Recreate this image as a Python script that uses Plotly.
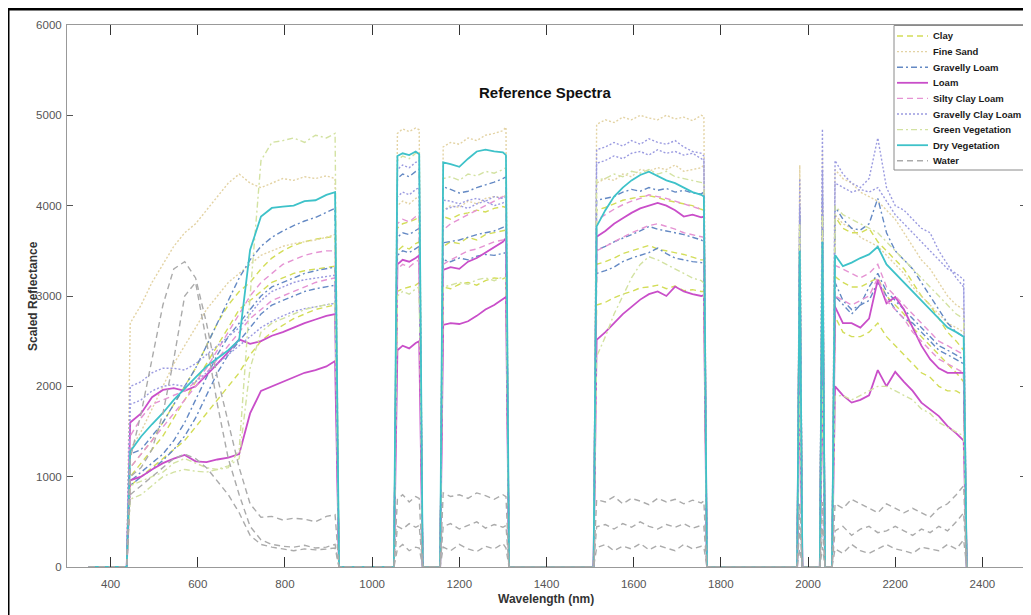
import plotly.graph_objects as go

# ---------------- wavelength grid (nm) ----------------
WL_B1 = [445, 470, 495, 520, 545, 570, 595, 620, 645, 670, 695, 720, 745, 770, 795, 820, 845, 870, 895, 915]
WL_B2 = [1058, 1070, 1085, 1100, 1108]
WL_B3 = [1163, 1180, 1200, 1220, 1240, 1260, 1280, 1300, 1307]
WL_B4 = [1515, 1535, 1555, 1575, 1595, 1615, 1635, 1655, 1675, 1695, 1715, 1735, 1755, 1761]
WL_S1 = [1981]
WL_S2 = [2033]
WL_B5 = [2062, 2080, 2100, 2120, 2140, 2160, 2180, 2200, 2220, 2240, 2260, 2280, 2300, 2320, 2340, 2357]
# removed (zero-valued) bands before each valid band
GAP_WL = [(350, 437), (924, 1050), (1116, 1156), (1314, 1508), (1768, 1975), (1987, 2027), (2039, 2055)]
END_WL = 2364

# ---------------- spectra (B1 | B2 | B3 | B4 | S1 | S2 | B5) ----------------
clay_a = ([1100, 1250, 1400, 1600, 1800, 2000, 2200, 2450, 2700, 2900, 3050, 3150, 3300, 3420, 3500, 3560, 3600, 3630, 3650, 3660]
          + [3750, 3800, 3820, 3850, 3880]
          + [3880, 3850, 3900, 3920, 3950, 3930, 3970, 3990, 3980]
          + [3950, 3980, 4020, 4060, 4080, 4100, 4110, 4090, 4060, 4040, 4020, 4000, 3960, 3950]
          + [3900] + [4000]
          + [3880, 3750, 3700, 3700, 3750, 3600, 3500, 3400, 3300, 3150, 3000, 2900, 2750, 2600, 2500, 2400])
clay_b = ([900, 1000, 1100, 1200, 1300, 1400, 1550, 1700, 1850, 2000, 2150, 2350, 2500, 2600, 2680, 2750, 2800, 2850, 2880, 2900]
          + [3050, 3080, 3100, 3120, 3150]
          + [3100, 3080, 3130, 3150, 3120, 3170, 3200, 3190, 3210]
          + [2900, 2930, 2980, 3020, 3050, 3090, 3100, 3120, 3080, 3110, 3060, 3070, 3050, 3050]
          + [2700] + [2900]
          + [2770, 2600, 2550, 2550, 2600, 2700, 2550, 2450, 2350, 2250, 2150, 2100, 2000, 1950, 1950, 1900])
clay_c = ([1000, 1150, 1300, 1450, 1650, 1850, 2050, 2250, 2450, 2650, 2850, 2950, 3050, 3150, 3200, 3250, 3280, 3300, 3320, 3330]
          + [3500, 3550, 3520, 3580, 3600]
          + [3550, 3600, 3580, 3650, 3620, 3680, 3700, 3720, 3730]
          + [3350, 3380, 3420, 3470, 3500, 3530, 3560, 3520, 3500, 3480, 3460, 3430, 3400, 3400]
          + [3200] + [3300]
          + [3215, 3150, 3100, 3100, 3150, 3200, 3000, 2900, 2800, 2650, 2550, 2450, 2350, 2250, 2150, 2050])

sand_a = ([2700, 2900, 3150, 3350, 3550, 3700, 3800, 3950, 4100, 4250, 4350, 4250, 4200, 4250, 4300, 4280, 4320, 4300, 4330, 4300]
          + [4800, 4850, 4820, 4860, 4840]
          + [4650, 4700, 4680, 4750, 4720, 4780, 4800, 4830, 4870]
          + [4900, 4950, 4920, 4980, 4950, 5000, 4970, 4950, 5000, 4960, 4980, 4940, 5000, 4990]
          + [4450] + [4600]
          + [4400, 4300, 4250, 4150, 4100, 4050, 3950, 3850, 3700, 3550, 3400, 3300, 3150, 3000, 2900, 2850])
sand_b = ([1300, 1500, 1750, 2000, 2250, 2450, 2650, 2850, 3000, 3150, 3250, 3350, 3450, 3500, 3550, 3580, 3600, 3620, 3650, 3680]
          + [4000, 4050, 4020, 4080, 4100]
          + [3950, 4000, 3980, 4050, 4020, 4080, 4100, 4090, 4120]
          + [4250, 4300, 4280, 4350, 4320, 4400, 4380, 4420, 4400, 4450, 4380, 4400, 4420, 4450]
          + [4100] + [4200]
          + [3900, 3800, 3750, 3650, 3600, 3550, 3450, 3350, 3250, 3100, 3000, 2900, 2800, 2700, 2650, 2600])

gloam_a = ([1250, 1300, 1450, 1600, 1800, 2000, 2200, 2450, 2700, 2950, 3200, 3400, 3550, 3650, 3720, 3780, 3830, 3870, 3930, 3970]
           + [4300, 4350, 4320, 4380, 4400]
           + [4210, 4180, 4140, 4160, 4200, 4230, 4260, 4300, 4320]
           + [4060, 4080, 4100, 4150, 4180, 4160, 4200, 4170, 4190, 4150, 4170, 4140, 4130, 4150]
           + [3900] + [4100]
           + [3990, 3850, 3750, 3730, 3800, 4080, 3700, 3500, 3400, 3300, 3150, 3000, 2850, 2700, 2600, 2550])
gloam_b = ([950, 1050, 1150, 1250, 1400, 1600, 1850, 2100, 2350, 2550, 2700, 2850, 3000, 3100, 3150, 3200, 3250, 3280, 3300, 3320]
           + [3450, 3500, 3480, 3520, 3550]
           + [3400, 3380, 3420, 3400, 3440, 3460, 3450, 3470, 3480]
           + [3250, 3280, 3320, 3380, 3420, 3450, 3480, 3530, 3470, 3420, 3400, 3380, 3370, 3365]
           + [3000] + [3100]
           + [3000, 2900, 2800, 2900, 3100, 3250, 3050, 2950, 2850, 2750, 2650, 2550, 2450, 2400, 2350, 2300])
gloam_c = ([900, 1000, 1080, 1180, 1300, 1450, 1650, 1900, 2150, 2350, 2500, 2650, 2800, 2900, 2950, 3000, 3050, 3080, 3100, 3120]
           + [3650, 3700, 3680, 3720, 3750]
           + [3590, 3600, 3620, 3650, 3680, 3700, 3720, 3760, 3780]
           + [3510, 3550, 3600, 3640, 3680, 3720, 3770, 3740, 3720, 3700, 3680, 3650, 3620, 3600]
           + [3300] + [3400]
           + [3150, 2950, 2850, 2900, 2950, 3150, 3000, 2850, 2750, 2700, 2600, 2500, 2400, 2350, 2300, 2250])

loam_a = ([1600, 1700, 1880, 1960, 1980, 1950, 2000, 2120, 2250, 2380, 2520, 2470, 2500, 2560, 2600, 2650, 2700, 2740, 2780, 2800]
          + [3350, 3400, 3380, 3420, 3450]
          + [3290, 3320, 3300, 3380, 3420, 3480, 3540, 3600, 3640]
          + [3657, 3720, 3800, 3860, 3920, 3970, 4000, 4030, 4000, 3950, 3880, 3900, 3870, 3880]
          + [3360] + [3400]
          + [2880, 2700, 2700, 2650, 2750, 3180, 2920, 2990, 2850, 2650, 2450, 2300, 2200, 2150, 2150, 2150])
loam_b = ([960, 1000, 1080, 1150, 1200, 1240, 1170, 1160, 1190, 1210, 1250, 1700, 1950, 2000, 2050, 2100, 2150, 2180, 2220, 2280]
          + [2400, 2450, 2420, 2480, 2500]
          + [2680, 2700, 2690, 2720, 2780, 2850, 2900, 2960, 2990]
          + [2515, 2600, 2700, 2800, 2880, 2960, 3020, 3050, 3000, 3105, 3050, 3020, 3000, 3010]
          + [2030] + [2100]
          + [2000, 1900, 1820, 1850, 1900, 2180, 2000, 2160, 2050, 1950, 1820, 1750, 1670, 1560, 1480, 1400])

scl_a = ([1450, 1650, 1800, 1850, 1900, 1950, 2050, 2200, 2400, 2600, 2800, 3000, 3150, 3250, 3350, 3400, 3450, 3480, 3500, 3500]
         + [3800, 3850, 3820, 3880, 3900]
         + [3730, 3800, 3850, 3900, 3950, 4000, 4050, 4100, 4140]
         + [3840, 3900, 3960, 4010, 4050, 4080, 4120, 4100, 4080, 4050, 4020, 3990, 3960, 3950]
         + [3400] + [3500]
         + [3340, 3300, 3250, 3200, 3250, 3350, 3100, 3000, 2900, 2800, 2700, 2600, 2500, 2450, 2400, 2350])
scl_b = ([1100, 1250, 1400, 1550, 1700, 1850, 2000, 2150, 2300, 2450, 2600, 2750, 2850, 2950, 3000, 3050, 3100, 3150, 3180, 3200]
         + [3300, 3350, 3320, 3380, 3400]
         + [3350, 3400, 3450, 3500, 3520, 3560, 3600, 3620, 3650]
         + [3500, 3550, 3600, 3650, 3700, 3740, 3780, 3800, 3770, 3740, 3700, 3680, 3660, 3650]
         + [3100] + [3200]
         + [3000, 2950, 2900, 2950, 3000, 3200, 2950, 2850, 2750, 2600, 2500, 2400, 2300, 2250, 2200, 2150])

gcl_a = ([2000, 2050, 2150, 2200, 2200, 2180, 2250, 2350, 2450, 2550, 2650, 2800, 2950, 3050, 3100, 3150, 3180, 3200, 3220, 3230]
         + [4400, 4450, 4420, 4480, 4500]
         + [4060, 4050, 4020, 4060, 4080, 4050, 4100, 4080, 4100]
         + [4620, 4650, 4700, 4660, 4720, 4680, 4740, 4700, 4680, 4720, 4650, 4600, 4580, 4550]
         + [4300] + [4850]
         + [4500, 4350, 4250, 4200, 4300, 4750, 4200, 4000, 3950, 3850, 3750, 3700, 3500, 3350, 3200, 3100])
gcl_b = ([1800, 1850, 1950, 2000, 2020, 2000, 2050, 2150, 2250, 2350, 2450, 2550, 2650, 2720, 2780, 2830, 2860, 2880, 2900, 2920]
         + [4100, 4150, 4120, 4180, 4200]
         + [3950, 3980, 4000, 3970, 4020, 4050, 4000, 4030, 4050]
         + [4470, 4500, 4550, 4520, 4580, 4600, 4560, 4620, 4580, 4600, 4560, 4580, 4520, 4500]
         + [4000] + [4400]
         + [4250, 4200, 4150, 4180, 4150, 4200, 4050, 3900, 3800, 3700, 3600, 3500, 3400, 3300, 3250, 3180])

gveg_a = ([900, 950, 1000, 1050, 1150, 1200, 1150, 1100, 1080, 1100, 1300, 3000, 4500, 4700, 4720, 4750, 4700, 4780, 4750, 4800]
          + [4500, 4550, 4520, 4580, 4600]
          + [4300, 4320, 4280, 4350, 4330, 4380, 4360, 4400, 4420]
          + [4285, 4300, 4350, 4320, 4380, 4360, 4400, 4350, 4380, 4320, 4300, 4280, 4260, 4250]
          + [3800] + [3900]
          + [4000, 3900, 3850, 3800, 3750, 3700, 3600, 3500, 3400, 3300, 3200, 3100, 3000, 2900, 2800, 2750])
gveg_b = ([750, 800, 900, 1000, 1050, 1080, 1060, 1050, 1080, 1120, 1200, 2200, 2600, 2700, 2750, 2800, 2850, 2880, 2900, 2920]
          + [3000, 3050, 3020, 3080, 3100]
          + [3100, 3120, 3150, 3130, 3180, 3200, 3170, 3210, 3200]
          + [2330, 2550, 2800, 3000, 3200, 3350, 3435, 3400, 3350, 3300, 3250, 3200, 3170, 3145]
          + [1900] + [2000]
          + [1890, 1900, 1850, 1900, 1950, 2000, 2000, 1950, 1900, 1850, 1750, 1700, 1600, 1550, 1500, 1450])

dveg_a = ([1280, 1445, 1580, 1705, 1850, 1980, 2100, 2220, 2310, 2400, 2515, 3510, 3880, 3975, 3990, 4000, 4050, 4060, 4120, 4150]
          + [4550, 4580, 4560, 4600, 4570]
          + [4480, 4460, 4430, 4520, 4600, 4620, 4600, 4590, 4560]
          + [3770, 3950, 4100, 4200, 4280, 4340, 4376, 4330, 4280, 4250, 4200, 4150, 4120, 4100]
          + [3500] + [3600]
          + [3455, 3330, 3370, 3420, 3460, 3545, 3350, 3250, 3150, 3050, 2950, 2850, 2750, 2650, 2600, 2550])

water_a = ([1200, 1700, 2300, 2900, 3300, 3380, 3200, 2700, 2100, 1600, 1100, 700, 550, 560, 520, 540, 530, 500, 560, 580]
           + [750, 800, 720, 780, 760]
           + [820, 780, 800, 760, 820, 790, 750, 800, 780]
           + [745, 720, 780, 700, 760, 730, 690, 760, 720, 750, 700, 740, 710, 730]
           + [700] + [720]
           + [700, 650, 750, 700, 650, 600, 700, 650, 600, 650, 600, 550, 650, 700, 800, 900])
water_b = ([1000, 1100, 1300, 1700, 2300, 3000, 3150, 2500, 1800, 1200, 800, 450, 300, 250, 230, 220, 240, 210, 220, 250]
           + [450, 420, 480, 440, 460]
           + [450, 480, 420, 460, 500, 430, 470, 440, 460]
           + [446, 470, 420, 480, 440, 500, 450, 420, 470, 440, 480, 430, 460, 450]
           + [450] + [430]
           + [400, 450, 350, 420, 450, 380, 400, 450, 400, 350, 420, 380, 450, 400, 500, 600])
water_c = ([800, 900, 1000, 1100, 1200, 1250, 1200, 1100, 950, 800, 600, 350, 250, 220, 200, 180, 200, 190, 200, 210]
           + [200, 250, 180, 220, 210]
           + [220, 180, 250, 200, 170, 230, 200, 260, 210]
           + [213, 250, 180, 230, 200, 260, 190, 240, 210, 180, 250, 200, 230, 220]
           + [200] + [220]
           + [200, 150, 250, 180, 150, 200, 250, 200, 180, 150, 220, 200, 180, 250, 200, 300])

CLASS_NAMES = ["Clay", "Fine Sand", "Gravelly Loam", "Loam", "Silty Clay Loam",
               "Gravelly Clay Loam", "Green Vegetation", "Dry Vegetation", "Water"]
CLASS_SAMPLES = [[clay_a, clay_b, clay_c], [sand_a, sand_b], [gloam_a, gloam_b, gloam_c],
                 [loam_a, loam_b], [scl_a, scl_b], [gcl_a, gcl_b], [gveg_a, gveg_b],
                 [dveg_a], [water_a, water_b, water_c]]

# ---------------- styles ----------------
COLORS = ["#d3dd58", "#e3d3a4", "#6489c4", "#c94ec9", "#e593d3",
          "#9b9be0", "#d3e2a2", "#3ec2c9", "#ababab"]
DASHES = ["6px,4px", "2px,2px", "6px,3px,2px,3px", "solid", "6px,4px",
          "2px,2px", "6px,3px,2px,3px", "solid", "6px,4px"]
WIDTHS = [1.4, 1.4, 1.4, 1.8, 1.4, 1.4, 1.4, 1.8, 1.4]

BANDS = [WL_B1, WL_B2, WL_B3, WL_B4, WL_S1, WL_S2, WL_B5]


def assemble(vals):
    xs, ys, i = [], [], 0
    for (g0, g1), wl in zip(GAP_WL, BANDS):
        xs += [g0, g1]
        ys += [0, 0]
        n = len(wl)
        xs += wl
        ys += vals[i:i + n]
        i += n
    xs.append(END_WL)
    ys.append(0)
    return xs, ys


fig = go.Figure()
for name, samples, col, dash, w in zip(CLASS_NAMES, CLASS_SAMPLES, COLORS, DASHES, WIDTHS):
    for k, s in enumerate(samples):
        xs, ys = assemble(s)
        fig.add_trace(go.Scatter(
            x=xs, y=ys, mode="lines", name=name, legendgroup=name,
            showlegend=False,
            line=dict(color=col, dash=dash, width=w),
            hoverinfo="skip"))

# ---------------- figure geometry (page offset of 8px body margin) ----------------
FIG_W, FIG_H = 1023, 607
M_L, M_R, M_T, M_B = 59, 5, 17, 48
PW = FIG_W - M_L - M_R      # plot width in px
PH = FIG_H - M_T - M_B      # plot height in px
OX, OY = 8 + M_L, 8 + M_T   # page position of the plot's top-left corner


def px2paper_x(px):
    return (px - OX) / PW


def px2paper_y(py):
    return (OY + PH - py) / PH


# ---------------- compact legend (MATLAB style) ----------------
shapes = [
    dict(type="line", xref="paper", yref="paper", x0=px2paper_x(6), x1=px2paper_x(1040),
         y0=px2paper_y(9), y1=px2paper_y(9), line=dict(color="black", width=3)),
    dict(type="line", xref="paper", yref="paper", x0=px2paper_x(8), x1=px2paper_x(8),
         y0=px2paper_y(8), y1=px2paper_y(640), line=dict(color="black", width=3)),
    dict(type="rect", xref="paper", yref="paper", x0=px2paper_x(894), x1=px2paper_x(1024.5),
         y0=px2paper_y(170), y1=px2paper_y(25.5), fillcolor="white",
         line=dict(color="#8a8a8a", width=1), layer="above"),
]
annotations = []
LEG_Y0, LEG_DY = 36.0, 15.6
for i, (name, col, dash, w) in enumerate(zip(CLASS_NAMES, COLORS, DASHES, WIDTHS)):
    yy = LEG_Y0 + i * LEG_DY
    shapes.append(dict(type="line", xref="paper", yref="paper",
                       x0=px2paper_x(897), x1=px2paper_x(928),
                       y0=px2paper_y(yy), y1=px2paper_y(yy),
                       line=dict(color=col, dash=dash, width=w), layer="above"))
    annotations.append(dict(text=name, x=px2paper_x(931), y=px2paper_y(yy),
                            xref="paper", yref="paper", xanchor="left", yanchor="middle",
                            showarrow=False,
                            font=dict(family="Arial", size=9.5, color="#1a1a1a", weight="bold")))

annotations += [
    dict(text="Reference Spectra", x=px2paper_x(545), y=px2paper_y(93), xref="paper", yref="paper",
         xanchor="center", yanchor="middle", showarrow=False,
         font=dict(family="Arial", size=15, color="#111111", weight="bold")),
    dict(text="Scaled Reflectance", x=px2paper_x(33), y=px2paper_y(296), xref="paper", yref="paper",
         xanchor="center", yanchor="middle", textangle=-90, showarrow=False,
         font=dict(family="Arial", size=12, color="#333333", weight="bold")),
    dict(text="Wavelength (nm)", x=px2paper_x(546), y=px2paper_y(599), xref="paper", yref="paper",
         xanchor="center", yanchor="middle", showarrow=False,
         font=dict(family="Arial", size=12, color="#333333", weight="bold")),
]

AX_FONT = dict(family="Arial", size=11.5, color="#555555")

fig.update_layout(
    width=FIG_W, height=FIG_H,
    margin=dict(l=M_L, r=M_R, t=M_T, b=M_B),
    paper_bgcolor="white", plot_bgcolor="white",
    font=dict(family="Arial"),
    showlegend=False,
    xaxis=dict(range=[300, 2500], tickvals=[400, 600, 800, 1000, 1200, 1400, 1600, 1800, 2000, 2200, 2400],
               showgrid=False, zeroline=False, showline=True, linecolor="#999999", linewidth=1,
               mirror="ticks", ticks="inside", ticklen=10, tickcolor="#333333", tickwidth=1,
               tickfont=AX_FONT, ticklabelstandoff=6),
    yaxis=dict(range=[0, 6000], tickvals=[0, 1000, 2000, 3000, 4000, 5000, 6000],
               showgrid=False, zeroline=False, showline=True, linecolor="#999999", linewidth=1,
               mirror="ticks", ticks="inside", ticklen=6, tickcolor="#555555", tickwidth=1,
               tickfont=AX_FONT, ticklabelstandoff=2),
    annotations=annotations,
    shapes=shapes,
)

fig.write_html("out.html")
